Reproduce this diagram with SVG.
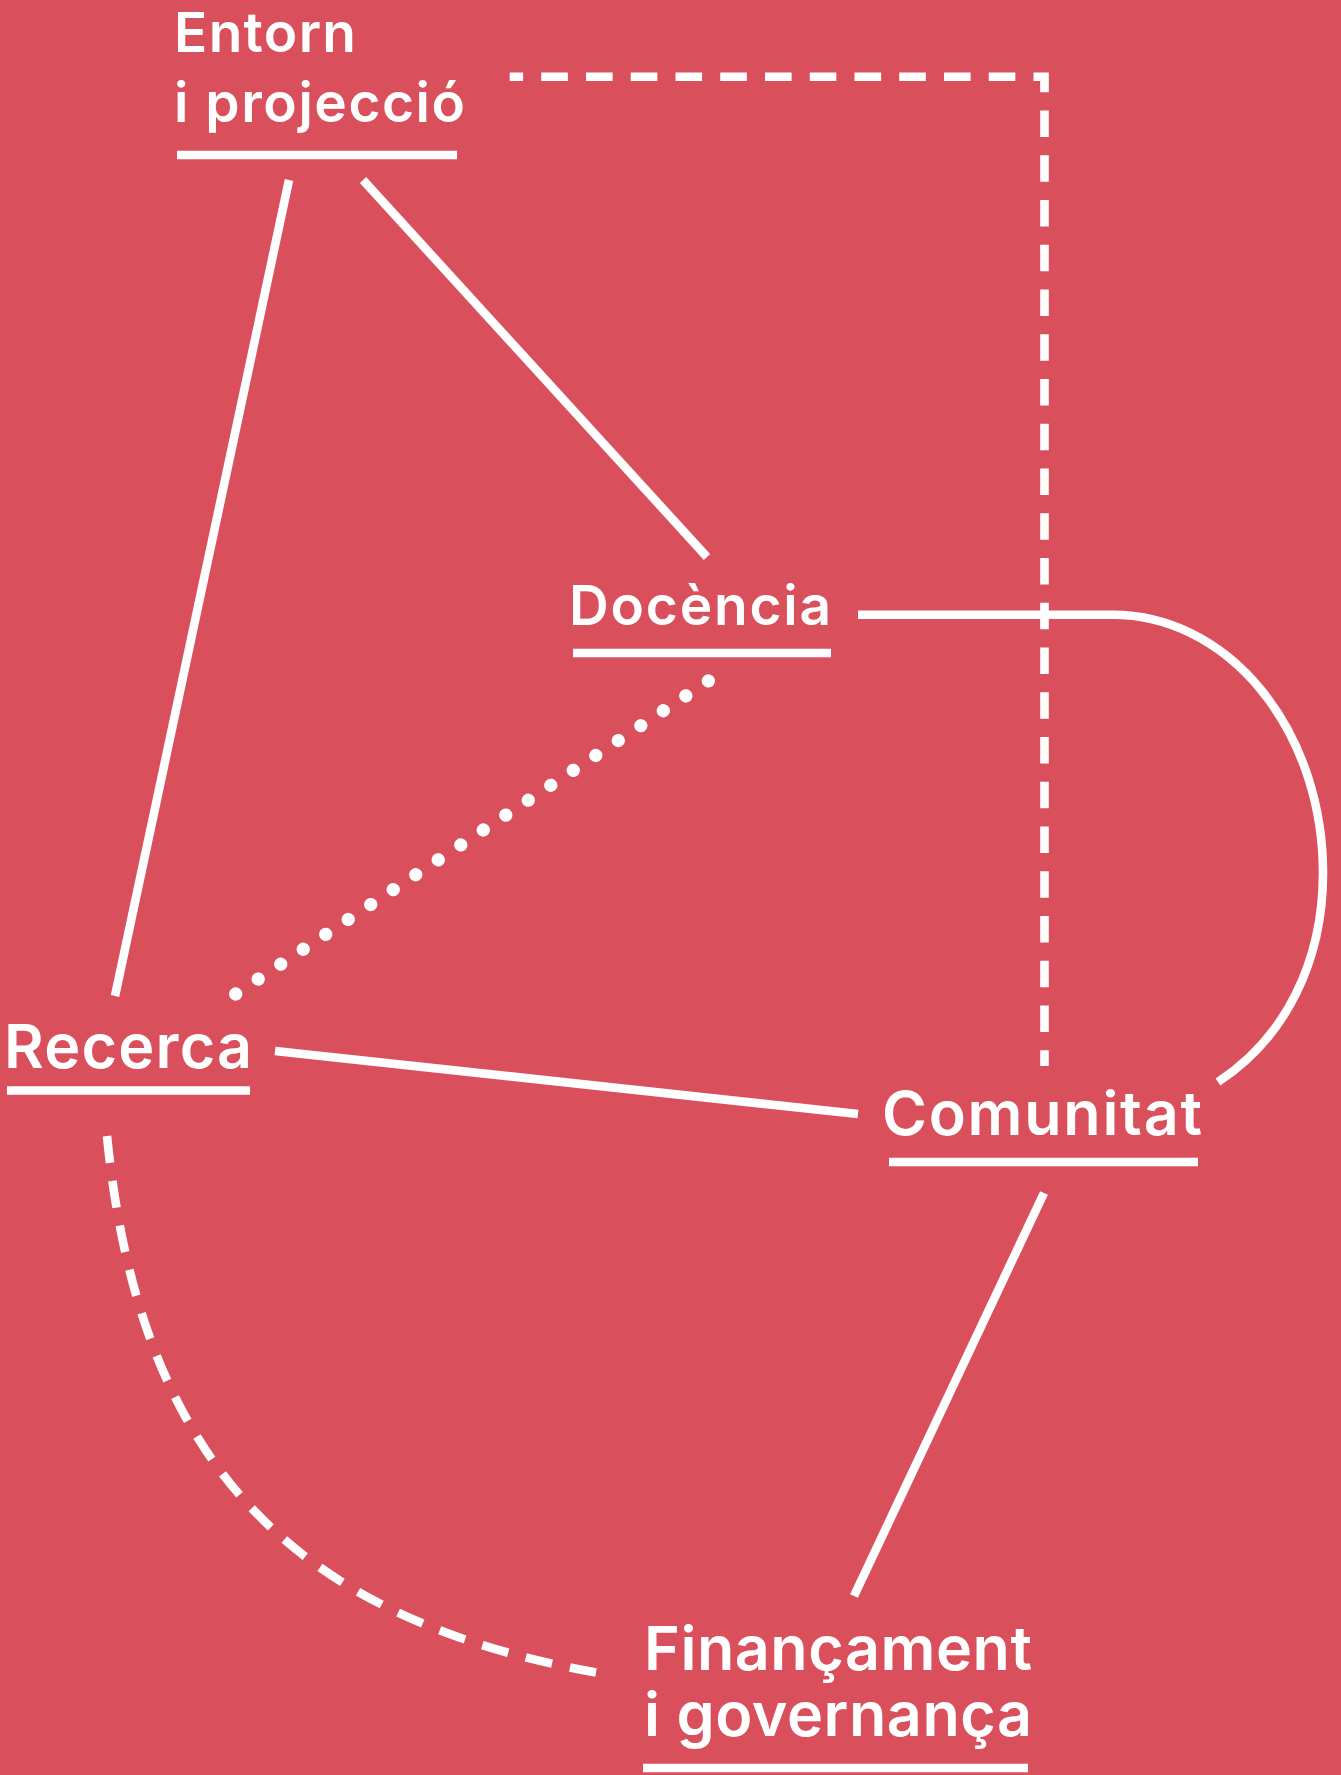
<svg xmlns="http://www.w3.org/2000/svg" width="1341" height="1775" viewBox="0 0 1341 1775">
<style>
  .lbl { font-family: Inter, "Liberation Sans", sans-serif; font-weight: 600; fill: #ffffff; }
  .sm { font-size: 55px; }
  .lg { font-size: 61px; }
  .ul { stroke: #ffffff; stroke-width: 8.6; stroke-linecap: butt; fill: none; }
  .conn { stroke: #ffffff; stroke-width: 8.6; stroke-linecap: butt; fill: none; }
  .dash { stroke-dasharray: 26.6 18.15; }
  .dots { stroke: #ffffff; stroke-width: 13.3; stroke-linecap: round; stroke-dasharray: 0.01 26.985; fill: none; }
</style>
<rect x="0" y="0" width="1341" height="1775" fill="#D9505C"/>

<g id="connectors">
  <path id="entorn-recerca" class="conn" d="M 289 180 L 115 996"/>
  <path id="entorn-docencia" class="conn" d="M 363 180 L 707 557"/>
  <path id="docencia-comunitat" class="conn" d="M 858 614.8 H 1113 A 210 258 0 0 1 1323 873 C 1323 962 1285 1038 1218 1082"/>
  <path id="recerca-comunitat" class="conn" d="M 275 1051 L 858 1114"/>
  <path id="comunitat-financament" class="conn" d="M 1044 1193 L 854 1596"/>
  <path id="entorn-comunitat" class="conn dash" stroke-dashoffset="13.2" stroke-linejoin="miter" d="M 509.7 76.7 H 1044.5 V 1066"/>
  <path id="recerca-financament" class="conn" stroke-dasharray="27 18.2" d="M 107 1136 C 139 1456 286 1617 596 1672.5"/>
  <path id="recerca-docencia" class="dots" d="M 235.7 994 L 708.7 680.7"/>
</g>

<g id="node-entorn">
  <text class="lbl sm" x="174" y="52" textLength="182" lengthAdjust="spacing">Entorn</text>
  <text class="lbl sm" x="174" y="122" textLength="291" lengthAdjust="spacing">i projecció</text>
  <line class="ul" x1="177" y1="155" x2="457" y2="155"/>
</g>

<g id="node-docencia">
  <text class="lbl sm" x="569" y="625" textLength="262" lengthAdjust="spacing">Docència</text>
  <line class="ul" x1="573" y1="653" x2="831" y2="653"/>
</g>

<g id="node-recerca">
  <text class="lbl lg" x="4" y="1068" textLength="248" lengthAdjust="spacing">Recerca</text>
  <line class="ul" x1="7" y1="1090.5" x2="250" y2="1090.5"/>
</g>

<g id="node-comunitat">
  <text class="lbl lg" x="882" y="1135" textLength="320" lengthAdjust="spacing">Comunitat</text>
  <line class="ul" x1="889" y1="1162" x2="1198" y2="1162"/>
</g>

<g id="node-financament">
  <text class="lbl lg" x="644" y="1670" textLength="388" lengthAdjust="spacing">Finançament</text>
  <text class="lbl lg" x="644" y="1736" textLength="388" lengthAdjust="spacing">i governança</text>
  <line class="ul" x1="643" y1="1768" x2="1028" y2="1768"/>
</g>
</svg>
